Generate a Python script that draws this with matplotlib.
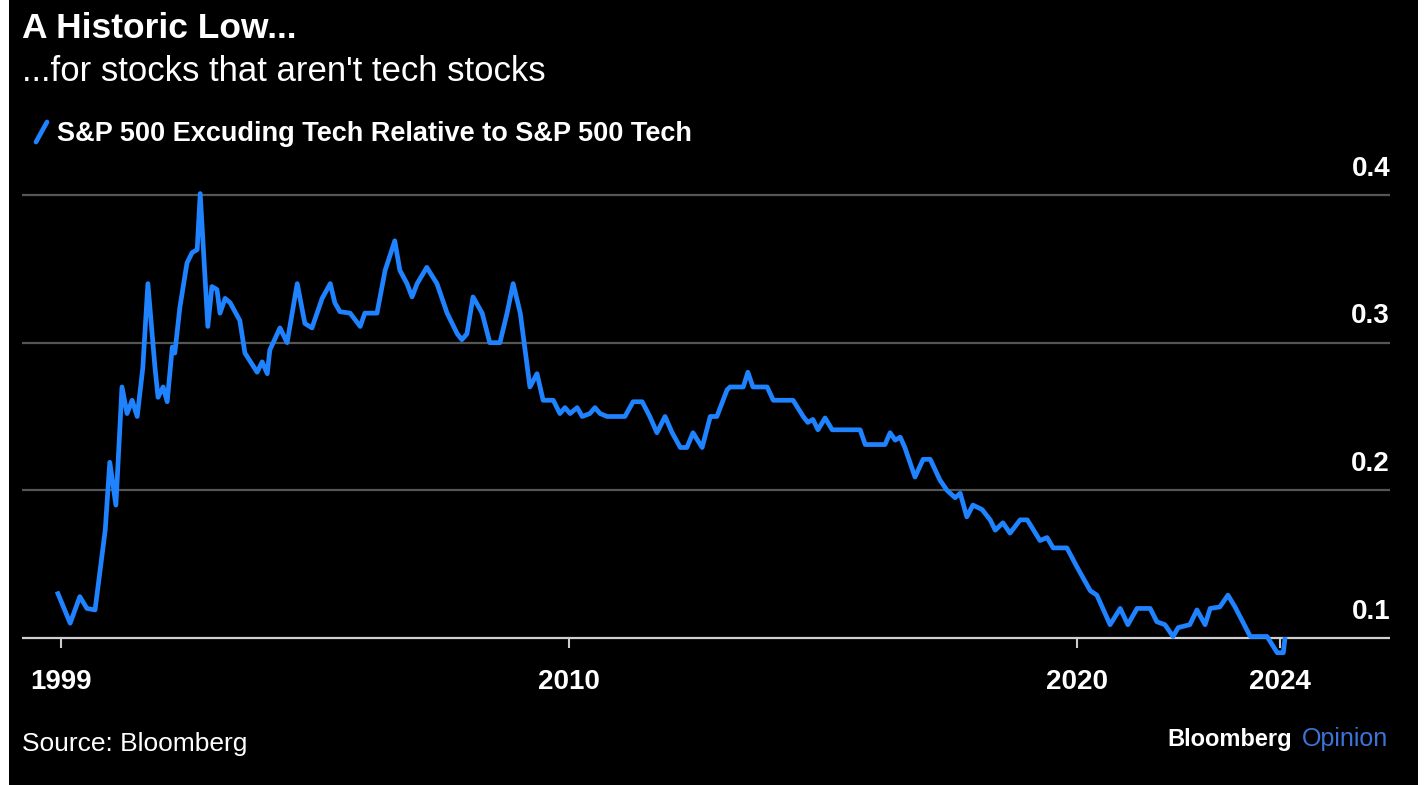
import matplotlib
matplotlib.use('Agg')

import matplotlib.pyplot as plt
from matplotlib.lines import Line2D
from matplotlib.patches import Rectangle

# S&P 500 ex-tech relative to S&P 500 tech, dates as decimal years
years = [1999.94, 2000.18, 2000.37, 2000.51, 2000.67, 2000.87, 2000.96, 2001.08,
         2001.20, 2001.30, 2001.40, 2001.50, 2001.61, 2001.71, 2001.85, 2001.91,
         2002.01, 2002.09, 2002.19, 2002.24, 2002.34, 2002.48, 2002.58, 2002.68,
         2002.74, 2002.80, 2002.89, 2002.97, 2003.07, 2003.13, 2003.23, 2003.33,
         2003.52, 2003.62, 2003.86, 2003.96, 2004.06, 2004.11, 2004.31, 2004.45,
         2004.65, 2004.80, 2004.94, 2005.14, 2005.30, 2005.39, 2005.49, 2005.69,
         2005.89, 2005.98, 2006.22, 2006.38, 2006.57, 2006.67, 2006.81, 2006.91,
         2007.01, 2007.20, 2007.40, 2007.60, 2007.80, 2007.89, 2007.99, 2008.11,
         2008.29, 2008.44, 2008.64, 2008.78, 2008.90, 2009.04, 2009.17, 2009.23,
         2009.37, 2009.49, 2009.69, 2009.82, 2009.92, 2010.02, 2010.16, 2010.26,
         2010.41, 2010.51, 2010.61, 2010.75, 2011.10, 2011.26, 2011.44, 2011.59,
         2011.73, 2011.89, 2012.03, 2012.19, 2012.32, 2012.44, 2012.62, 2012.78,
         2012.91, 2013.11, 2013.17, 2013.43, 2013.52, 2013.62, 2013.90, 2014.02,
         2014.41, 2014.61, 2014.70, 2014.80, 2014.90, 2015.04, 2015.18, 2015.73,
         2015.83, 2016.22, 2016.32, 2016.42, 2016.52, 2016.61, 2016.81, 2016.97,
         2017.11, 2017.30, 2017.44, 2017.60, 2017.70, 2017.83, 2017.95, 2018.13,
         2018.29, 2018.39, 2018.54, 2018.68, 2018.88, 2019.02, 2019.27, 2019.41,
         2019.53, 2019.80, 2020.00, 2020.26, 2020.39, 2020.65, 2020.85, 2021.00,
         2021.18, 2021.44, 2021.57, 2021.73, 2021.89, 2021.99, 2022.22, 2022.36,
         2022.52, 2022.62, 2022.81, 2022.97, 2023.11, 2023.41, 2023.74, 2023.94,
         2024.06, 2024.09]
ratio = [0.130, 0.110, 0.128, 0.120, 0.119, 0.173, 0.219, 0.190,
         0.270, 0.252, 0.261, 0.250, 0.283, 0.340, 0.283, 0.263,
         0.270, 0.260, 0.297, 0.293, 0.324, 0.354, 0.361, 0.363,
         0.401, 0.365, 0.311, 0.338, 0.336, 0.320, 0.330, 0.327,
         0.315, 0.293, 0.280, 0.287, 0.279, 0.295, 0.310, 0.300,
         0.340, 0.313, 0.310, 0.330, 0.340, 0.327, 0.321, 0.320,
         0.311, 0.320, 0.320, 0.349, 0.369, 0.349, 0.340, 0.331,
         0.340, 0.351, 0.340, 0.320, 0.306, 0.302, 0.306, 0.331,
         0.320, 0.300, 0.300, 0.320, 0.340, 0.320, 0.286, 0.270,
         0.279, 0.261, 0.261, 0.252, 0.256, 0.252, 0.256, 0.250,
         0.252, 0.256, 0.252, 0.250, 0.250, 0.260, 0.260, 0.250,
         0.239, 0.250, 0.239, 0.229, 0.229, 0.239, 0.229, 0.250,
         0.250, 0.268, 0.270, 0.270, 0.280, 0.270, 0.270, 0.261,
         0.261, 0.250, 0.246, 0.248, 0.241, 0.249, 0.241, 0.241,
         0.231, 0.231, 0.239, 0.234, 0.236, 0.229, 0.209, 0.221,
         0.221, 0.207, 0.200, 0.195, 0.198, 0.182, 0.190, 0.187,
         0.180, 0.173, 0.178, 0.171, 0.180, 0.180, 0.166, 0.168,
         0.161, 0.161, 0.148, 0.132, 0.129, 0.109, 0.120, 0.109,
         0.120, 0.120, 0.111, 0.109, 0.101, 0.107, 0.109, 0.119,
         0.109, 0.120, 0.121, 0.129, 0.121, 0.101, 0.101, 0.090,
         0.090, 0.099]

yticks = [0.1, 0.2, 0.3, 0.4]
xticks = [1999.99, 2010.0, 2020.0, 2024.0]
xlabels = ['1999', '2010', '2020', '2024']

title = 'A Historic Low...'
subtitle = "...for stocks that aren't tech stocks"
series_name = 'S&P 500 Excuding Tech Relative to S&P 500 Tech'
source = 'Source: Bloomberg'

W, H = 1428, 785
BLUE = '#1f82ff'
plt.rcParams['font.family'] = ['Liberation Sans', 'DejaVu Sans']


def fx(x):
    return x / W


def fy(y):
    return 1 - y / H


fig = plt.figure(figsize=(W / 100, H / 100), dpi=100, facecolor='white')
fig.patches.append(Rectangle((fx(9), 0), fx(1418 - 9), 1, transform=fig.transFigure,
                             facecolor='black', edgecolor='none', zorder=-1))

ax = fig.add_axes([fx(22), 117.5 / H, fx(1368), 502 / H])
ax.set_facecolor('black')
ax.set_xlim(1999.232, 2026.16)
ax.set_ylim(0.08, 0.42)

for v in yticks:
    ax.axhline(v, color='#d0d0d0' if v == yticks[0] else '#555555', lw=1.6, zorder=1)
    ax.annotate('%.1f' % v, xy=(1, v), xycoords=('axes fraction', 'data'),
                xytext=(0, 19), textcoords='offset points', ha='right', va='center',
                color='white', fontsize=20, fontweight='bold')

ax.plot(years, ratio, color=BLUE, lw=3.4, solid_joinstyle='round', zorder=3)

for s in ax.spines.values():
    s.set_color('none')
ax.spines['bottom'].set_position(('data', 0.1))
ax.set_yticks([])
ax.set_xticks(xticks)
ax.set_xticklabels(xlabels)
ax.tick_params(axis='x', length=7, width=1.5, color='#cccccc', pad=15,
               labelsize=20, labelcolor='white')
for lbl in ax.get_xticklabels():
    lbl.set_fontweight('bold')

# header
fig.text(fx(22), fy(38), title, color='white', fontsize=25.5, fontweight='bold', va='baseline')
fig.text(fx(22), fy(81), subtitle, color='white', fontsize=25, va='baseline')
fig.lines.append(Line2D([fx(36), fx(47)], [fy(142), fy(122)], transform=fig.transFigure,
                        color=BLUE, lw=3.4, solid_capstyle='round'))
fig.text(fx(57), fy(141), series_name, color='white', fontsize=19.5, fontweight='bold',
         va='baseline')

# footer
fig.text(fx(22), fy(751), source, color='white', fontsize=19, va='baseline')
fig.text(fx(1292), fy(746), 'Bloomberg', color='white', fontsize=17, fontweight='bold',
         ha='right', va='baseline')
fig.text(fx(1388), fy(746), 'Opinion', color='#3b73d9', fontsize=18, ha='right',
         va='baseline')

fig.savefig('out.png', dpi=100, facecolor=fig.get_facecolor())
